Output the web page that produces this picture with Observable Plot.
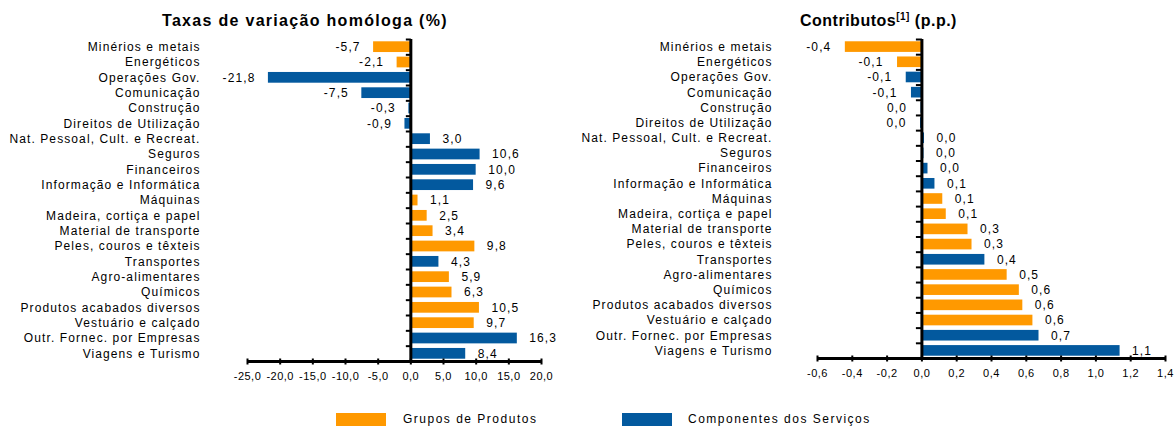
<!DOCTYPE html>
<html><head><meta charset="utf-8">
<script src="https://cdn.jsdelivr.net/npm/d3@7"></script>
<script src="https://cdn.jsdelivr.net/npm/@observablehq/plot@0.6"></script>
<style>
body{margin:0;background:#fff;font-family:"Liberation Sans",Arial,sans-serif;}
#root{position:relative;width:1176px;height:426px;overflow:hidden;background:#fff;}
.panel{position:absolute;top:0;}
.panel svg text{letter-spacing:1.1px;fill:#000;}
.panel g[aria-label="x-axis tick label"] text{letter-spacing:0.5px;}
.title{position:absolute;top:11px;font-weight:bold;font-size:16px;letter-spacing:0.5px;white-space:nowrap;color:#000;line-height:20px;}
.title sup{font-size:10px;vertical-align:6px;line-height:0;}
.leg{position:absolute;top:413px;height:13px;}
.legtxt{position:absolute;top:411px;font-size:12px;letter-spacing:1.5px;color:#000;white-space:nowrap;line-height:16px;}
</style>
</head><body>
<div id="root"></div>
<script>
const categories = ["Minérios e metais","Energéticos","Operações Gov.","Comunicação","Construção","Direitos de Utilização","Nat. Pessoal, Cult. e Recreat.","Seguros","Financeiros","Informação e Informática","Máquinas","Madeira, cortiça e papel","Material de transporte","Peles, couros e têxteis","Transportes","Agro-alimentares","Químicos","Produtos acabados diversos","Vestuário e calçado","Outr. Fornec. por Empresas","Viagens e Turismo"];
const groups = ["P","P","S","S","S","S","S","S","S","S","P","P","P","P","S","P","P","P","P","S","S"];
const taxas = [-5.7,-2.1,-21.8,-7.5,-0.3,-0.9,3.0,10.6,10.0,9.6,1.1,2.5,3.4,9.8,4.3,5.9,6.3,10.5,9.7,16.3,8.4];
const contributos = [-0.44,-0.14,-0.09,-0.06,-0.005,-0.008,0.015,0.012,0.035,0.075,0.12,0.14,0.265,0.288,0.362,0.49,0.56,0.58,0.638,0.673,1.139];
const groupNames = ["Grupos de Produtos","Componentes dos Serviços"];
const groupColors = ["#ff9900","#03599e"];
const taxasTicks = [-25,-20,-15,-10,-5,0,5,10,15,20];
const contribTicks = [-0.6,-0.4,-0.2,0,0.2,0.4,0.6,0.8,1.0,1.2,1.4];

const FONT = '"Liberation Sans", Arial, sans-serif';

function panel({values, xDomain, xTicks, width, height, mt, mb, ml, mr, labelPad, tickLeft, negDx, posDx}) {
  const data = categories.map((c, i) => ({cat: c, v: values[i], g: groupNames[groups[i] === "P" ? 0 : 1]}));
  const n = categories.length;
  const step = (height - mt - mb) / n;
  const fmt = v => { let s = v.toFixed(1); if (s === "-0.0") s = "0.0"; return s.replace(".", ","); };
  const tickFmt = v => v.toFixed(1).replace(".", ",");
  const hTick = {draw(ctx) { ctx.moveTo(-tickLeft, 0); ctx.lineTo(0, 0); }};
  const vTick = {draw(ctx) { ctx.moveTo(0, -3); ctx.lineTo(0, 3); }};
  return Plot.plot({
    width, height, marginTop: mt, marginBottom: mb, marginLeft: ml, marginRight: mr,
    style: {fontFamily: FONT, fontSize: "12px", color: "#000", background: "transparent", overflow: "visible"},
    x: {domain: xDomain, label: null},
    y: {domain: categories, paddingInner: 0.3, paddingOuter: 0.15, round: false, label: null},
    color: {domain: groupNames, range: groupColors},
    marks: [
      Plot.barX(data, {x: "v", y: "cat", fill: "g"}),
      Plot.ruleY([categories[n - 1]], {y: d => d, dy: step / 2, x1: () => xDomain[0], x2: () => xDomain[1], stroke: "#000", strokeWidth: 3}),
      Plot.dot(xTicks, {x: d => d, frameAnchor: "bottom", symbol: vTick, stroke: "#000", strokeWidth: 2, fill: "none"}),
      Plot.ruleX([0], {stroke: "#000", strokeWidth: 3}),
      Plot.dot(categories, {x: () => 0, y: d => d, dy: -step / 2, symbol: hTick, stroke: "#000", strokeWidth: 2, fill: "none"}),
      Plot.axisY({tickSize: 0, tickPadding: labelPad, fontSize: 12, label: null}),
      Plot.axisX({ticks: xTicks, tickSize: 0, tickPadding: 11, tickFormat: tickFmt, fontSize: 11, label: null}),
      Plot.text(data.filter(d => d.v < 0), {x: "v", y: "cat", text: d => fmt(d.v), textAnchor: "end", dx: negDx, fontSize: 12, fill: "#000"}),
      Plot.text(data.filter(d => d.v >= 0), {x: "v", y: "cat", text: d => fmt(d.v), textAnchor: "start", dx: posDx, fontSize: 12, fill: "#000"})
    ]
  });
}

const root = document.getElementById("root");

const left = panel({values: taxas, xDomain: [-25, 20], xTicks: taxasTicks, width: 580, height: 400, mt: 39, mb: 39, ml: 247, mr: 39, labelPad: 47, tickLeft: 5, negDx: -13, posDx: 12});
const lp = document.createElement("div"); lp.className = "panel"; lp.style.left = "0px"; lp.appendChild(left); root.appendChild(lp);

const right = panel({values: contributos, xDomain: [-0.6, 1.4], xTicks: contribTicks, width: 596, height: 400, mt: 39, mb: 42, ml: 237, mr: 11, labelPad: 45, tickLeft: 6, negDx: -14, posDx: 12});
const rp = document.createElement("div"); rp.className = "panel"; rp.style.left = "580px"; rp.appendChild(right); root.appendChild(rp);

function addTitle(html, x, ls) {
  const t = document.createElement("div"); t.className = "title"; t.style.left = x + "px"; t.style.letterSpacing = ls + "px"; t.innerHTML = html; root.appendChild(t);
}
addTitle("Taxas de variação homóloga (%)", 162, 1.3);
addTitle("Contributos<sup>[1]</sup> (p.p.)", 800, 0.5);

const legendPos = [[336, 403], [622, 688]];
groupNames.forEach((name, i) => {
  const sw = document.createElement("div"); sw.className = "leg";
  sw.style.left = legendPos[i][0] + "px"; sw.style.width = "50px"; sw.style.background = groupColors[i];
  root.appendChild(sw);
  const tx = document.createElement("div"); tx.className = "legtxt"; tx.style.left = legendPos[i][1] + "px"; tx.textContent = name;
  root.appendChild(tx);
});
</script>
</body></html>
